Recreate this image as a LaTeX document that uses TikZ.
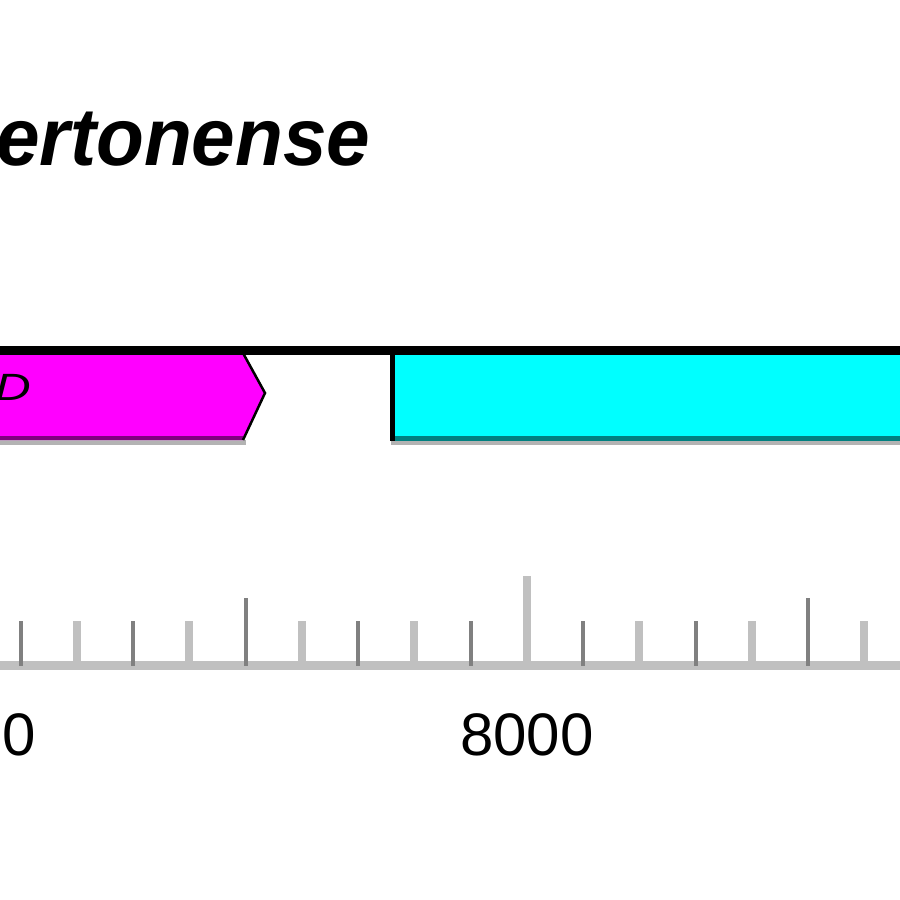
\documentclass[tikz,border=0pt]{standalone}
\usepackage{fontspec}
\setmainfont{Liberation Sans}
\usepackage{tikz}

\definecolor{genepink}{RGB}{255,0,255}
\definecolor{genepinkdark}{RGB}{128,0,128}
\definecolor{genecyan}{RGB}{0,255,255}
\definecolor{genecyandark}{RGB}{0,128,128}
\definecolor{rulerlight}{RGB}{192,192,192}
\definecolor{rulerdark}{RGB}{128,128,128}

\begin{document}
\begin{tikzpicture}[x=1pt,y=1pt,yscale=-1,xscale=1]
    \useasboundingbox (0,0) rectangle (900,900);
    \clip (0,0) rectangle (900,900);

    %Shape: shadow under genes
    \fill [color=rulerdark, fill opacity=0.6] (-20,440) rectangle (246,445);
    \fill [color=rulerdark, fill opacity=0.6] (391,440) rectangle (920,445);
    %Shape: gene arrow (magenta)
    \fill [color=genepink] (-20,355) -- (243,355) -- (265,393) -- (243,440) -- (-20,440) -- cycle;
    \draw [color=genepinkdark, line width=4] (-20,438) -- (243,438);
    \draw [color=black, line width=2.5, line join=miter] (243,353) -- (265,393) -- (243,440);
    %Shape: gene box (cyan)
    \fill [color=genecyan] (393,355) rectangle (920,440);
    \draw [color=genecyandark, line width=5] (393,438.5) -- (920,438.5);
    \draw [color=black, line width=5] (392.5,351) -- (392.5,441);
    %Straight Lines: sequence line
    \draw [color=black, line width=9] (-20,350.5) -- (920,350.5);

    %Shape: ruler base
    \fill [color=rulerlight] (-20,661) rectangle (920,670);
    %Straight Lines: ruler ticks
    \foreach \i in {0,...,15} {
      \pgfmathsetmacro{\tx}{20.7+56.25*\i}
      \pgfmathsetmacro{\ty}{ifthenelse(\i==9,576,ifthenelse(\i==4||\i==14,598,621))}
      \ifodd\i
        \draw [color=rulerlight, line width=8] (\tx,\ty) -- (\tx,666);
      \else
        \draw [color=rulerdark, line width=4] (\tx,\ty) -- (\tx,666);
      \fi
    }

    % Text Node
    \node [anchor=base west, inner sep=0pt, font=\fontsize{82}{94}\selectfont\bfseries\itshape] (title) at (-4,165) {\scalebox{0.955}[1]{ertonense}};
    % Text Node
    \node [anchor=base east, inner sep=0pt, font=\fontsize{38}{44}\selectfont\itshape] (genelabel) at (31,400) {\scalebox{1.3}[1]{D}};
    % Text Node
    \node [anchor=base east, inner sep=0pt, font=\fontsize{60}{70}\selectfont] (tickzero) at (36,755) {0};
    % Text Node
    \node [anchor=base, inner sep=0pt, font=\fontsize{60}{70}\selectfont] (tickeight) at (527,755) {8000};
\end{tikzpicture}
\end{document}
